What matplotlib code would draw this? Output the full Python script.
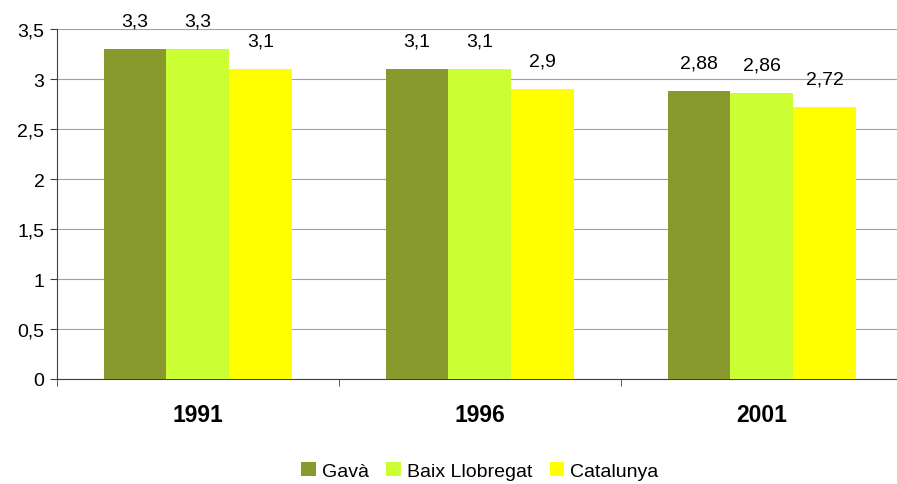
import numpy as np
import matplotlib.pyplot as plt

plt.rcParams['font.family'] = ['Liberation Sans', 'DejaVu Sans']

years = ["1991", "1996", "2001"]
series = ["Gavà", "Baix Llobregat", "Catalunya"]
gava = [3.3, 3.1, 2.88]
baix = [3.3, 3.1, 2.86]
catalunya = [3.1, 2.9, 2.72]
labels = [["3,3", "3,1", "2,88"], ["3,3", "3,1", "2,86"], ["3,1", "2,9", "2,72"]]
colors = ["#889A2E", "#CCFF33", "#FFFF00"]

fig = plt.figure(figsize=(8.97, 4.85), dpi=100)
ax = fig.add_axes([0.0635, 0.2165, 0.943, 0.7215])

x = np.arange(len(years))
w = 0.223
for i, (vals, name) in enumerate(zip([gava, baix, catalunya], series)):
    bars = ax.bar(x + (i - 1) * w, vals, w, color=colors[i], label=name, zorder=3)
    for b, lab in zip(bars, labels[i]):
        ax.text(b.get_x() + b.get_width() / 2, b.get_height() + 0.2, lab,
                ha="center", va="bottom", fontsize=14, zorder=4)

ax.set_xlim(-0.5, 2.5)
ax.set_ylim(0, 3.5)
ax.set_yticks(np.arange(0, 3.51, 0.5))
ax.set_yticklabels([f"{v:g}".replace(".", ",") for v in np.arange(0, 3.51, 0.5)], fontsize=14)
ax.yaxis.grid(True, color="#A0A0A0", linewidth=0.8, zorder=0)
ax.set_xticks(x)
ax.set_xticklabels(years, fontsize=16.5, fontweight="bold")
ax.set_xticks([-0.5, 0.5, 1.5, 2.5], minor=True)
ax.tick_params(axis="x", which="major", length=0, pad=17)
ax.tick_params(axis="x", which="minor", length=5, color="#404040")
ax.tick_params(axis="y", length=5, color="#404040", pad=4)
for s in ["top", "right"]:
    ax.spines[s].set_visible(False)
for s in ["left", "bottom"]:
    ax.spines[s].set_color("#404040")

ax.legend(loc="lower center", bbox_to_anchor=(0.5, -0.31), ncol=3, frameon=False,
          fontsize=14, handlelength=0.75, handleheight=0.75, handletextpad=0.3,
          columnspacing=0.9, borderaxespad=0)

fig.savefig("out.png", dpi=100)
